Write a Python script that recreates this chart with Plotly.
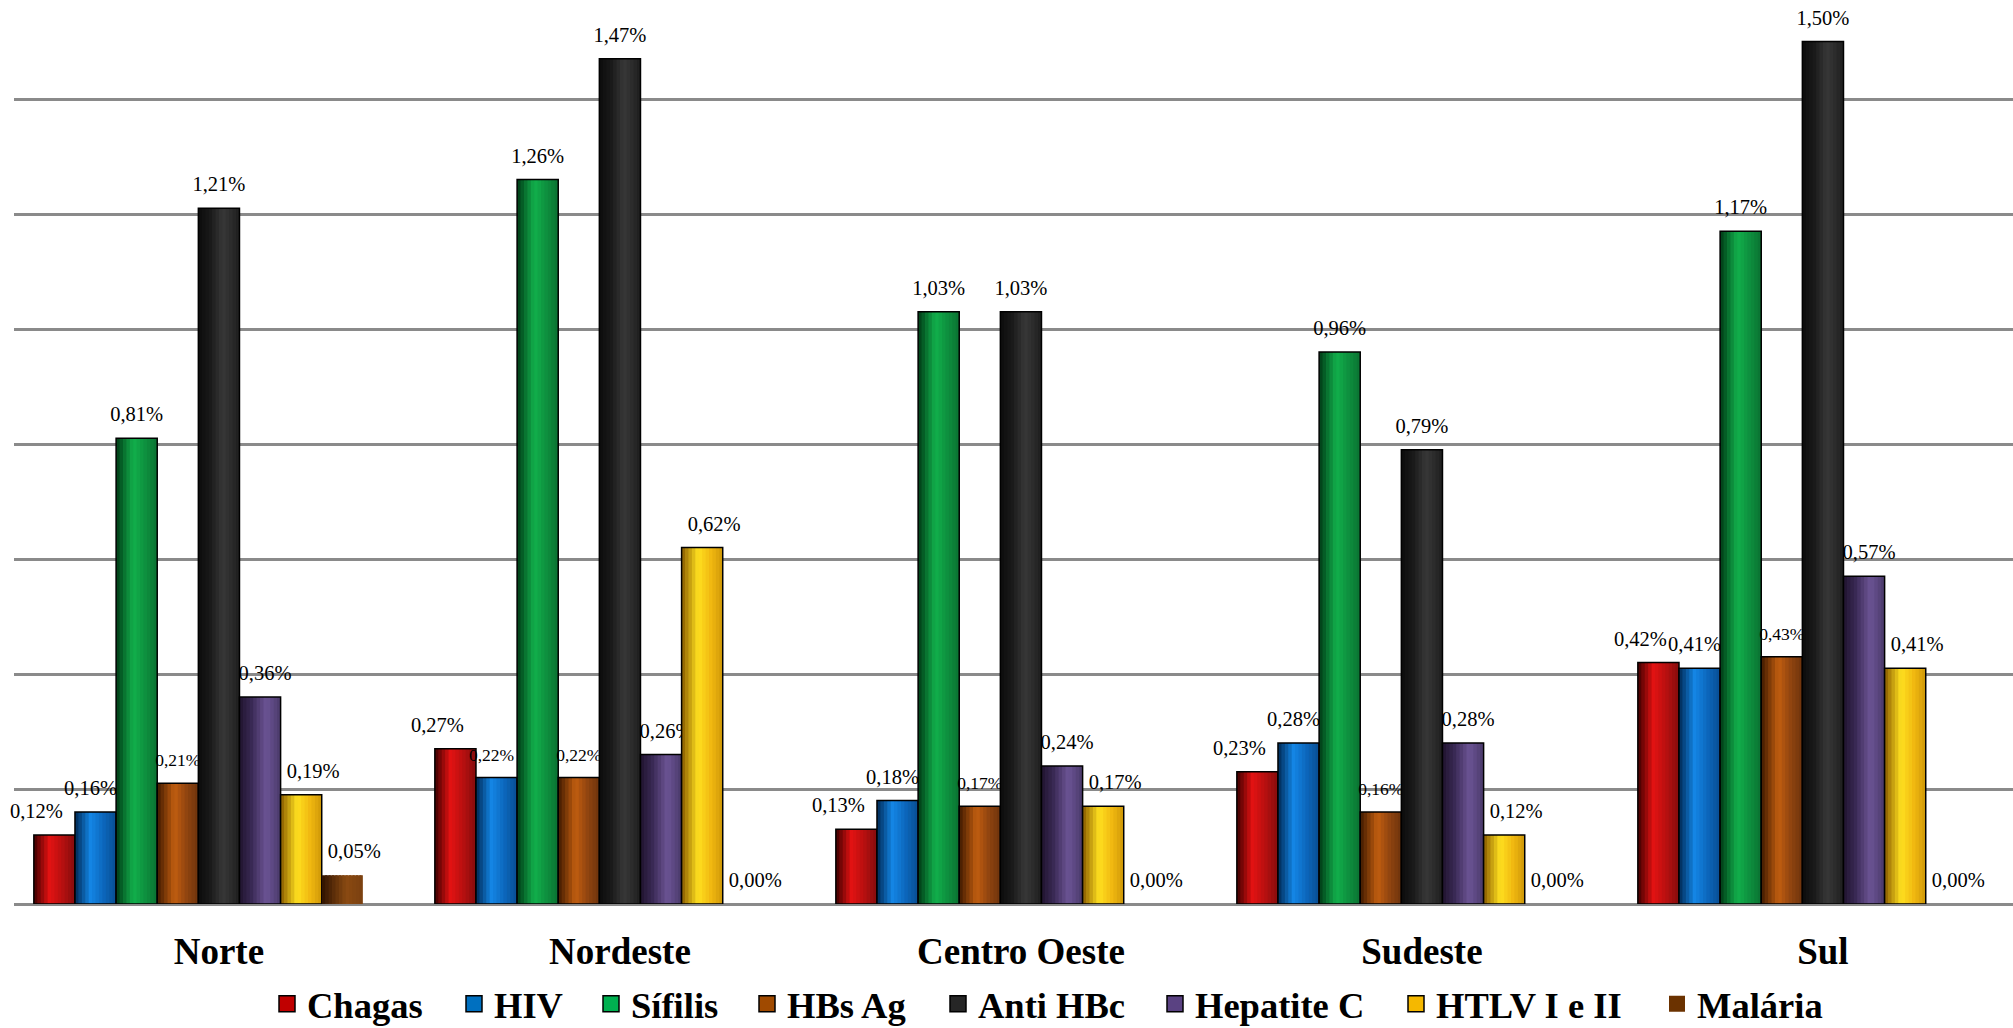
import plotly.graph_objects as go

# Regions (categories) and disease markers (series)
regions = ["Norte", "Nordeste", "Centro Oeste", "Sudeste", "Sul"]
series_names = ["Chagas", "HIV", "Sífilis", "HBs Ag", "Anti HBc",
                "Hepatite C", "HTLV I e II", "Malária"]

# Prevalence (%) per region
chagas = [0.12, 0.27, 0.13, 0.23, 0.42]
hiv = [0.16, 0.22, 0.18, 0.28, 0.41]
sifilis = [0.81, 1.26, 1.03, 0.96, 1.17]
hbs_ag = [0.21, 0.22, 0.17, 0.16, 0.43]
anti_hbc = [1.21, 1.47, 1.03, 0.79, 1.50]
hepatite_c = [0.36, 0.26, 0.24, 0.28, 0.57]
htlv = [0.19, 0.62, 0.17, 0.12, 0.41]
malaria = [0.05, 0.00, 0.00, 0.00, 0.00]

values = [chagas, hiv, sifilis, hbs_ag, anti_hbc, hepatite_c, htlv, malaria]

# ---- styling ----
SERIF = "Liberation Serif, Times New Roman, serif"
LEGEND_COLORS = ["#c00000", "#0070c0", "#00b050", "#a04a00",
                 "#262626", "#5a4282", "#f5b800", "#6b3200"]
GRADIENTS = [
    [(0, "#3f0000"), (0.38, "#e31212"), (0.7, "#b51010"), (1, "#850c0c")],
    [(0, "#002a55"), (0.38, "#1486e6"), (0.7, "#0c66bb"), (1, "#084e92")],
    [(0, "#003a16"), (0.42, "#12b04c"), (0.72, "#0e8f3e"), (1, "#0a7232")],
    [(0, "#401a00"), (0.42, "#c25e10"), (0.72, "#8f4410"), (1, "#6e340c")],
    [(0, "#0c0c0c"), (0.3, "#1a1a1a"), (0.6, "#383838"), (1, "#1e1e1e")],
    [(0, "#20142f"), (0.3, "#3a2a55"), (0.65, "#6c5495"), (1, "#4a3a6a")],
    [(0, "#8a5c00"), (0.4, "#ffe020"), (0.72, "#f0b810"), (1, "#cf9808")],
    [(0, "#2e1200"), (0.6, "#8a4a12"), (1, "#7a4010")],
]
OUTLINED = [True, True, True, True, True, True, True, False]
LABEL_NUDGE_PX = [-18, -5, 0, 0, 0, 5, 12, 12]   # horizontal label nudges per series
LABEL_LIFT_PX = 10                                # extra space between bar and label
LABEL_SIZE = [20.5, 20.5, 20.5, 17.5, 20.5, 20.5, 20.5, 20.5]
SMALL_LABELS = {(1, 1)}                           # (series, region) drawn smaller
LEGEND_LEFT_PX = [279, 466, 603, 759, 950, 1167, 1408, 1669]
LEGEND_MID_PX = 1004

FIG_W, FIG_H = 2013, 1028
MARGIN_L, MARGIN_B = 14, 124
PLOT_H = FIG_H - MARGIN_B
PX_PER_UNIT = 575.0    # vertical pixels per 1 percentage point
Y_MAX = PLOT_H / PX_PER_UNIT
N_SLOTS = 9            # cluster spacing of the original layout
GAP = 0.077
SLOT_W = (1 - GAP) / N_SLOTS
N_SLICES = 12
CAT_PX = 401.0


def hex_rgb(h):
    h = h.lstrip("#")
    return tuple(int(h[i:i + 2], 16) for i in (0, 2, 4))


def color_at(stops, t):
    for (p0, c0), (p1, c1) in zip(stops[:-1], stops[1:]):
        if p0 <= t <= p1:
            f = 0 if p1 == p0 else (t - p0) / (p1 - p0)
            a, b = hex_rgb(c0), hex_rgb(c1)
            r = [round(a[k] + (b[k] - a[k]) * f) for k in range(3)]
            return "rgb({},{},{})".format(*r)
    return stops[-1][1]


def pct(v):
    return f"{v:.2f}".replace(".", ",") + "%"


x_pos = list(range(len(regions)))
fig = go.Figure()

for s, (name, vals) in enumerate(zip(series_names, values)):
    base_off = -(1 - GAP) / 2 + s * SLOT_W
    sw = SLOT_W / N_SLICES
    # cylindrical shading: thin vertical slices of the same bar
    for j in range(N_SLICES):
        t = (j + 0.5) / N_SLICES
        fig.add_trace(go.Bar(
            x=x_pos, y=vals, offset=base_off + j * sw,
            width=min(sw * 1.6, SLOT_W - j * sw),
            marker=dict(color=color_at(GRADIENTS[s], t), line=dict(width=0)),
            showlegend=False, hoverinfo="skip"))
    # outline
    fig.add_trace(go.Bar(
        x=x_pos, y=vals, offset=base_off, width=SLOT_W, name=name,
        marker=dict(color="rgba(0,0,0,0)",
                    line=dict(color="#000000", width=1.5 if OUTLINED[s] else 0)),
        showlegend=False, hovertemplate=name + ": %{y:.2f}%<extra></extra>"))
    # value labels (kept in the bar layer so later bars sit on top of them)
    sizes = [17.5 if (s, r) in SMALL_LABELS else LABEL_SIZE[s] for r in x_pos]
    fig.add_trace(go.Bar(
        x=x_pos, y=vals, base=LABEL_LIFT_PX / PX_PER_UNIT,
        offset=base_off + LABEL_NUDGE_PX[s] / CAT_PX, width=SLOT_W,
        marker=dict(color="rgba(0,0,0,0)", line=dict(width=0)),
        text=[pct(v) for v in vals], textposition="outside",
        constraintext="none", cliponaxis=False,
        textfont=dict(family=SERIF, size=sizes, color="#000000"),
        outsidetextfont=dict(family=SERIF, size=sizes, color="#000000"),
        showlegend=False, hoverinfo="skip"))

# legend entries, one small legend per series so each sits where it belongs
legends = {}
for s, name in enumerate(series_names):
    key = "legend" if s == 0 else f"legend{s + 1}"
    fig.add_trace(go.Scatter(
        x=[None], y=[None], mode="markers", name=name, legend=key,
        marker=dict(symbol="square", size=16, color=LEGEND_COLORS[s],
                    line=dict(color="#000000", width=1.5 if OUTLINED[s] else 0))))
    legends[key] = dict(
        orientation="h", xref="container", yref="container",
        x=(LEGEND_LEFT_PX[s] - 12) / FIG_W, xanchor="left",
        y=(FIG_H - LEGEND_MID_PX) / FIG_H, yanchor="middle",
        font=dict(family=SERIF, size=36.5, color="#000000", weight="bold"),
        itemsizing="trace", bgcolor="rgba(0,0,0,0)", borderwidth=0)

fig.update_layout(
    width=FIG_W, height=FIG_H,
    margin=dict(l=MARGIN_L, r=0, t=0, b=MARGIN_B, autoexpand=False),
    paper_bgcolor="white", plot_bgcolor="white",
    barmode="overlay",
    showlegend=True,
    xaxis=dict(range=[-0.511, 4.474], tickvals=x_pos, ticktext=regions,
               showgrid=False, zeroline=False, showline=False, ticks="",
               tickfont=dict(family=SERIF, size=37, color="#000000",
                             weight="bold"),
               ticklabelstandoff=22, fixedrange=True),
    yaxis=dict(range=[0, Y_MAX], dtick=0.2, showticklabels=False,
               showgrid=True, gridcolor="#8a8a8a", gridwidth=2.5,
               zeroline=True, zerolinecolor="#8a8a8a", zerolinewidth=2.5,
               showline=False, ticks="", fixedrange=True),
    **legends,
)

fig.write_html("out.html")
